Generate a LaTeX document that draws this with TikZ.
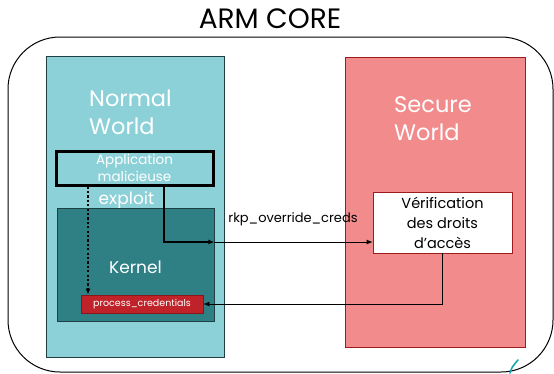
\documentclass[tikz,border=0pt]{standalone}
\usepackage{fontspec}
\setmainfont{Poppins}
\usetikzlibrary{arrows.meta}
\definecolor{nwfill}{HTML}{8CD1D8}
\definecolor{nwline}{HTML}{1F3F42}
\definecolor{kfill}{HTML}{2F8085}
\definecolor{swfill}{HTML}{F28B8C}
\definecolor{swline}{HTML}{9E1B1E}
\definecolor{pcfill}{HTML}{BF2228}
\definecolor{pcline}{HTML}{8A1518}
\definecolor{penmark}{HTML}{16A7B0}
\tikzset{
  region/.style={draw, line width=0.9pt, inner sep=0pt},
  whitetxt/.style={text=white, inner sep=0pt},
  conn/.style={line width=0.8pt, -{Latex[length=6pt,width=5pt]}},
  heavyconn/.style={line width=2pt, -{Latex[length=6pt,width=5pt]}},
  dotconn/.style={line width=2.2pt, dash pattern=on 2.2pt off 2.2pt, -{Latex[length=6pt,width=5pt]}},
}
\begin{document}
\begin{tikzpicture}[x=1pt,y=-1pt]
\useasboundingbox (0,0) rectangle (554,373);

% outer core outline
\draw[line width=1pt, rounded corners=52pt] (8,37) rectangle (553,372);
\node[inner sep=0pt, anchor=base] (title) at (270,28) {\fontsize{28}{32}\selectfont ARM CORE};

% the two worlds
\node[region, fill=nwfill, draw=nwline, minimum width=178, minimum height=301] (normal) at (135,206.5) {};
\node[region, fill=swfill, draw=swline, minimum width=180, minimum height=290] (secure) at (435,202) {};

\node[whitetxt, anchor=base west] (nw1) at (89,106) {\fontsize{22.5}{26}\selectfont Normal};
\node[whitetxt, anchor=base west] (nw2) at (89,134) {\fontsize{22.5}{26}\selectfont World};
\node[whitetxt, anchor=base west] (sw1) at (394,112) {\fontsize{22.5}{26}\selectfont Secure};
\node[whitetxt, anchor=base west] (sw2) at (394,140) {\fontsize{22.5}{26}\selectfont World};

% normal world contents
\node[draw=black, line width=3pt, fill=nwfill, minimum width=157, minimum height=34, inner sep=0pt,
      text=white, align=center, font=\fontsize{13.5}{16.5}\selectfont] (app) at (134.5,168) {Application\\malicieuse};
\node[whitetxt, font=\fontsize{17}{20}\selectfont] (exploit) at (126.5,200) {exploit};
\node[region, fill=kfill, draw=nwline, minimum width=157, minimum height=113] (kernel) at (135.5,264.5) {};
\node[whitetxt, font=\fontsize{17}{20}\selectfont] (kname) at (135.5,267) {Kernel};
\node[draw=pcline, line width=0.8pt, fill=pcfill, minimum width=122, minimum height=18, inner sep=0pt,
      text=white, font=\fontsize{9.5}{11}\selectfont] (proc) at (142,304) {process\_credentials};

% secure world contents
\node[draw=swline, line width=0.8pt, fill=white, minimum width=139, minimum height=61, inner sep=0pt,
      align=center, font=\fontsize{14.5}{20}\selectfont] (verif) at (442.5,222.5) {Vérification\\des droits\\d’accès};

% connectors
\coordinate (turn) at (164,242);
\coordinate (dotx) at (88,0);
\draw[heavyconn] (app.south -| turn) |- (kernel.east |- turn);
\draw[conn] (kernel.east |- turn) -- (verif.west |- turn);
\node[inner sep=0pt, font=\fontsize{13}{15}\selectfont] (rkp) at (293,219) {rkp\_override\_creds};
\draw[conn] (verif.south) |- (proc.east);
\draw[dotconn] (app.south -| dotx) -- (proc.north -| dotx);

% pen stroke at the lower edge
\draw[penmark, line width=1.6pt, line cap=round] (510,373) .. controls (512,367) .. (518,360);
\end{tikzpicture}
\end{document}
